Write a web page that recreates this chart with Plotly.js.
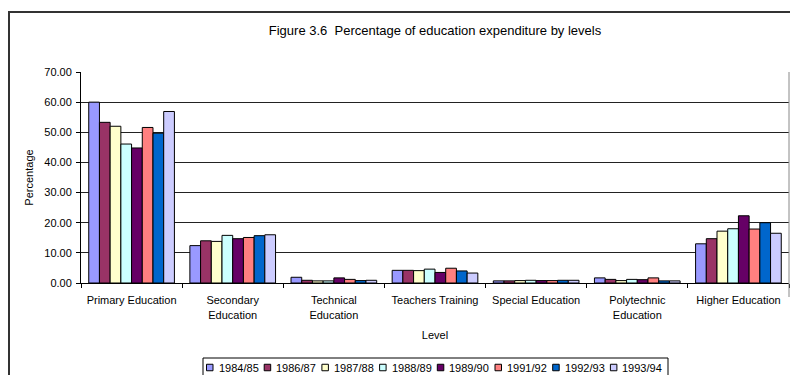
<!DOCTYPE html>
<html>
<head>
<meta charset="utf-8">
<script src="https://cdn.plot.ly/plotly-3.0.1.min.js"></script>
<style>
  html, body { margin: 0; padding: 0; background: #fff; overflow: hidden; }
  #wrap { position: relative; width: 790px; height: 375px; }
  #chart { position: absolute; left: 0; top: 0; width: 790px; height: 375px; }
  #frame { position: absolute; left: 8px; top: 11px; width: 800px; height: 400px;
           border: 2px solid #333; pointer-events: none; box-sizing: border-box; }
</style>
</head>
<body>
<div id="wrap">
  <div id="chart"></div>
  <div id="frame"></div>
</div>
<script>
// ---- Data ----
const categories = ['Primary Education', 'Secondary<br>Education', 'Technical<br>Education',
  'Teachers Training', 'Special Education', 'Polytechnic<br>Education', 'Higher Education'];
const seriesNames = ['1984/85', '1986/87', '1987/88', '1988/89', '1989/90', '1991/92', '1992/93', '1993/94'];
const v1984_85 = [60.0, 12.4, 1.9, 4.2, 0.7, 1.7, 13.0];
const v1986_87 = [53.3, 14.0, 0.9, 4.2, 0.7, 1.2, 14.7];
const v1987_88 = [52.0, 13.8, 0.7, 4.1, 0.8, 0.8, 17.2];
const v1988_89 = [46.1, 15.8, 0.7, 4.6, 0.9, 1.2, 18.0];
const v1989_90 = [44.8, 14.7, 1.7, 3.5, 0.8, 1.1, 22.3];
const v1991_92 = [51.6, 15.1, 1.2, 4.9, 0.8, 1.7, 17.9];
const v1992_93 = [49.7, 15.7, 0.8, 4.0, 0.9, 0.7, 20.0];
const v1993_94 = [56.9, 16.0, 0.9, 3.3, 0.9, 0.7, 16.5];
const seriesValues = [v1984_85, v1986_87, v1987_88, v1988_89, v1989_90, v1991_92, v1992_93, v1993_94];
const seriesColors = ['#9999FF', '#993366', '#FFFFCC', '#CCFFFF', '#660066', '#FF8080', '#0066CC', '#CCCCFF'];
const yTicks = [0, 10, 20, 30, 40, 50, 60, 70];

// ---- Layout geometry ----
const W = 790, H = 375;
const M = { l: 81, r: 1, t: 72, b: 92 };
const PW = W - M.l - M.r, PH = H - M.t - M.b;
const px2x = p => (p - M.l) / PW;
const px2y = p => (H - M.b - p) / PH;
const FONT = 'Liberation Sans, Arial, sans-serif';

const traces = seriesNames.map((name, i) => ({
  type: 'bar',
  name: name,
  x: categories,
  y: seriesValues[i],
  marker: { color: seriesColors[i], line: { color: '#000', width: 1 } },
  hoverinfo: 'x+y+name'
}));

// custom Excel-style legend
const shapes = [];
const annotations = [];
shapes.push({ type: 'rect', xref: 'paper', yref: 'paper',
  x0: px2x(203), x1: px2x(668), y0: px2y(380), y1: px2y(358),
  line: { color: '#000', width: 1 }, fillcolor: 'rgba(0,0,0,0)' });
const legStart = 206.5, legStep = 57.7, sym = 6.5, legY = 367.5;
seriesNames.forEach((name, i) => {
  const sx = legStart + i * legStep;
  shapes.push({ type: 'rect', xref: 'paper', yref: 'paper',
    x0: px2x(sx), x1: px2x(sx + sym), y0: px2y(legY + sym / 2), y1: px2y(legY - sym / 2),
    line: { color: '#000', width: 1 }, fillcolor: seriesColors[i] });
  annotations.push({ xref: 'paper', yref: 'paper', x: px2x(sx + sym + 3.5), y: px2y(legY),
    xanchor: 'left', yanchor: 'middle', showarrow: false, text: name,
    font: { family: FONT, size: 11, color: '#000' } });
});
// right plot-area edge line
shapes.push({ type: 'line', xref: 'paper', yref: 'paper', x0: 1, x1: 1, y0: px2y(297), y1: 1,
  line: { color: '#888', width: 1 } });

const layout = {
  width: W, height: H,
  margin: M,
  paper_bgcolor: 'rgba(0,0,0,0)',
  plot_bgcolor: 'rgba(0,0,0,0)',
  font: { family: FONT, size: 11, color: '#000' },
  showlegend: false,
  barmode: 'group',
  bargap: 0.153,
  bargroupgap: 0,
  title: { text: 'Figure 3.6  Percentage of education expenditure by levels',
    font: { family: FONT, size: 13, color: '#000' },
    xref: 'paper', x: 0.5, xanchor: 'center',
    yref: 'container', y: 1 - 30 / H, yanchor: 'middle' },
  xaxis: {
    type: 'category',
    showline: true, linecolor: '#000', linewidth: 1,
    ticks: 'outside', tickson: 'boundaries', ticklen: 4, tickcolor: '#000',
    ticklabelstandoff: 7,
    showgrid: false, zeroline: false,
    tickangle: 0,
    tickfont: { family: FONT, size: 11, color: '#000' },
    title: { text: 'Level', font: { family: FONT, size: 11, color: '#000' }, standoff: 11 },
    automargin: false
  },
  yaxis: {
    range: [0, 70],
    tickvals: yTicks,
    tickformat: '.2f',
    showline: true, linecolor: '#000', linewidth: 1,
    ticks: 'outside', ticklen: 4, tickcolor: '#000',
    ticklabelstandoff: 2,
    showgrid: true, gridcolor: '#222', gridwidth: 1,
    zeroline: false,
    tickfont: { family: FONT, size: 11, color: '#000' },
    title: { text: 'Percentage', font: { family: FONT, size: 11, color: '#000' }, standoff: 8 },
    automargin: false
  },
  shapes: shapes,
  annotations: annotations
};

Plotly.newPlot('chart', traces, layout, { displayModeBar: false, staticPlot: true });
</script>
</body>
</html>
